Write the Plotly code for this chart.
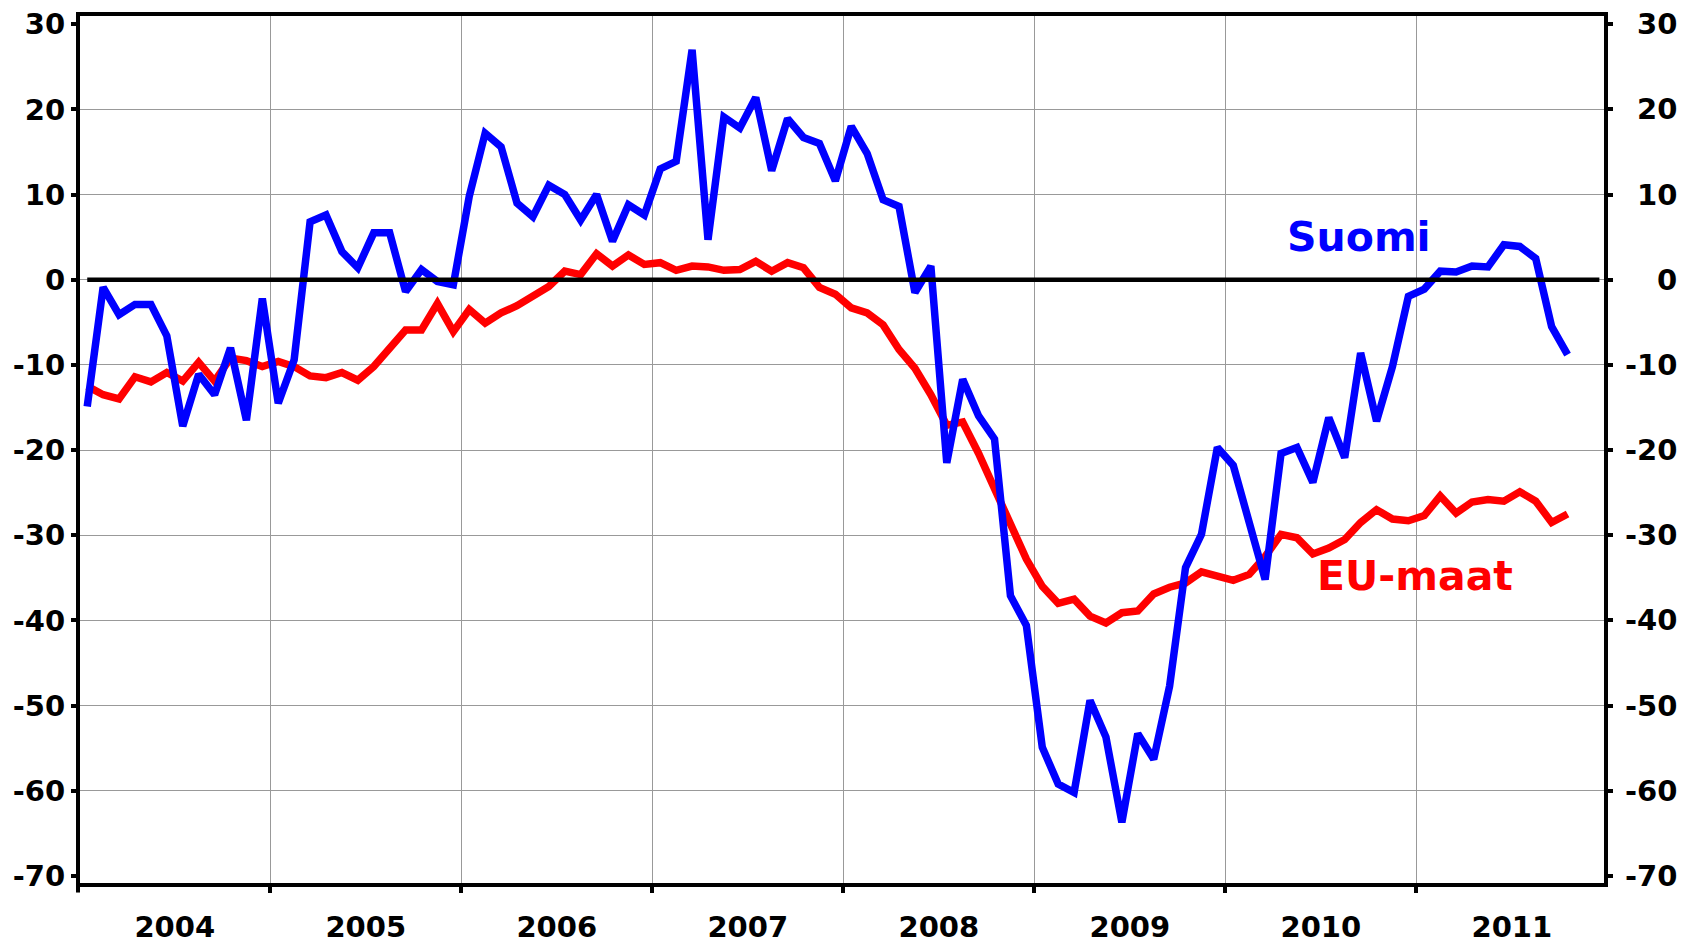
import plotly.graph_objects as go

# ---------------- data ----------------
years = [2004, 2005, 2006, 2007, 2008, 2009, 2010, 2011]
y_ticks = [30, 20, 10, 0, -10, -20, -30, -40, -50, -60, -70]
y_grid = [20, 10, 0, -10, -20, -30, -40, -50, -60]

# Monthly values Jan 2004 - Oct 2011
suomi = [
    -14.9, -0.9, -4.1, -2.9, -2.9, -6.6, -17.2, -11.1, -13.5, -8.0, -16.5, -2.2,
    -14.5, -9.4, 6.8, 7.6, 3.3, 1.4, 5.5, 5.5, -1.4, 1.2, -0.2, -0.6,
    9.8, 17.2, 15.6, 9.0, 7.4, 11.1, 10.0, 7.0, 10.0, 4.5, 8.8, 7.6,
    13.0, 13.9, 27.0, 4.7, 19.1, 17.8, 21.4, 12.8, 18.9, 16.7, 16.0, 11.6,
    18.0, 14.8, 9.4, 8.6, -1.5, 1.6, -21.5, -11.7, -16.0, -18.7, -37.1, -40.6,
    -54.9, -59.2, -60.2, -49.4, -53.7, -63.7, -53.3, -56.3, -47.7, -33.8, -29.9, -19.7,
    -21.8, -28.7, -35.2, -20.4, -19.7, -23.8, -16.2, -20.9, -8.6, -16.6, -10.2, -1.95,
    -1.1, 1.0, 0.9, 1.6, 1.5, 4.1, 3.9, 2.5, -5.5, -8.8,
]
eu_maat = [
    -12.5, -13.5, -14.0, -11.4, -12.0, -10.9, -11.9, -9.7, -11.9, -9.2, -9.5, -10.2,
    -9.6, -10.2, -11.3, -11.5, -10.9, -11.8, -10.2, -8.2, -5.9, -5.9, -2.8, -6.1,
    -3.5, -5.1, -3.9, -3.05, -1.95, -0.8, 1.0, 0.6, 3.05, 1.6, 2.9, 1.8,
    2.0, 1.1, 1.6, 1.5, 1.1, 1.2, 2.15, 1.0, 2.0, 1.4, -0.9, -1.7,
    -3.3, -3.9, -5.3, -8.2, -10.4, -13.5, -17.1, -16.7, -20.4, -24.6, -28.9, -32.8,
    -36.0, -38.0, -37.5, -39.5, -40.3, -39.1, -38.9, -36.9, -36.1, -35.6, -34.3, -34.8,
    -35.3, -34.6, -32.5, -29.9, -30.3, -32.2, -31.5, -30.5, -28.5, -27.0, -28.1, -28.3,
    -27.7, -25.4, -27.4, -26.1, -25.8, -26.0, -24.9, -26.0, -28.5, -27.5,
]

# month positions (middle of each month, in months since Jan 2004)
x_months = [i + 0.5 for i in range(len(suomi))]
year_starts = [12 * k for k in range(1, len(years))]
year_mids = [12 * k + 6 for k in range(len(years))]

FONT = "DejaVu Sans, Liberation Sans, sans-serif"
TICK_SIZE = 29

fig = go.Figure()
fig.add_trace(go.Scatter(x=x_months, y=eu_maat, mode="lines", name="EU-maat",
                         line=dict(color="#FF0000", width=7.5), showlegend=False))
fig.add_trace(go.Scatter(x=x_months, y=suomi, mode="lines", name="Suomi",
                         line=dict(color="#0000FF", width=7.5), showlegend=False))

# zero line
fig.add_shape(type="line", xref="x", yref="y", x0=0.5, x1=95.5, y0=0, y1=0,
              line=dict(color="black", width=4.5), layer="above")
# 2004 corner tick below the bottom axis
fig.add_shape(type="line", xref="paper", yref="paper", x0=-0.0013, x1=-0.0013,
              y0=0, y1=-0.011, line=dict(color="black", width=4))

# series labels
fig.add_annotation(x=80.4, y=5.0, xref="x", yref="y", text="<b>Suomi</b>",
                   showarrow=False, font=dict(family=FONT, size=41, color="#0000FF"))
fig.add_annotation(x=83.9, y=-34.8, xref="x", yref="y", text="<b>EU-maat</b>",
                   showarrow=False, font=dict(family=FONT, size=41, color="#FF0000"))

# right-hand tick labels (right aligned)
for v in y_ticks:
    fig.add_annotation(x=1, xref="paper", y=v, yref="y", text=f"<b>{v}</b>",
                       xanchor="right", yanchor="middle", xshift=75, showarrow=False,
                       font=dict(family=FONT, size=TICK_SIZE, color="black"))

fig.update_layout(
    width=1696, height=943, autosize=False,
    margin=dict(l=80, r=92, t=16, b=60),
    paper_bgcolor="white", plot_bgcolor="white",
    font=dict(family=FONT, size=TICK_SIZE, color="black"),
    xaxis=dict(
        range=[0.046, 95.79], automargin=False,
        tickmode="array", tickvals=year_mids, ticktext=[f"<b>{y}</b>" for y in years],
        ticks="", showgrid=False, zeroline=False, ticklabelstandoff=15,
        showline=True, linewidth=4, linecolor="black", mirror=True,
        tickfont=dict(family=FONT, size=TICK_SIZE, color="black"),
        minor=dict(tickmode="array", tickvals=year_starts, ticks="outside",
                   ticklen=6, tickwidth=4, tickcolor="black",
                   showgrid=True, gridcolor="#999999", gridwidth=1),
    ),
    yaxis=dict(
        range=[-70.83, 30.96], automargin=False,
        tickmode="array", tickvals=y_ticks, ticktext=[f"<b>{v}</b>" for v in y_ticks],
        ticks="outside", ticklen=5, tickwidth=4, tickcolor="black",
        showgrid=False, zeroline=False,
        showline=True, linewidth=4, linecolor="black", mirror="ticks",
        tickfont=dict(family=FONT, size=TICK_SIZE, color="black"),
        minor=dict(tickmode="array", tickvals=y_grid, ticks="",
                   showgrid=True, gridcolor="#999999", gridwidth=1),
    ),
)

fig.write_html("out.html", config={"displayModeBar": False},
               post_script="document.body.style.margin='0';")
